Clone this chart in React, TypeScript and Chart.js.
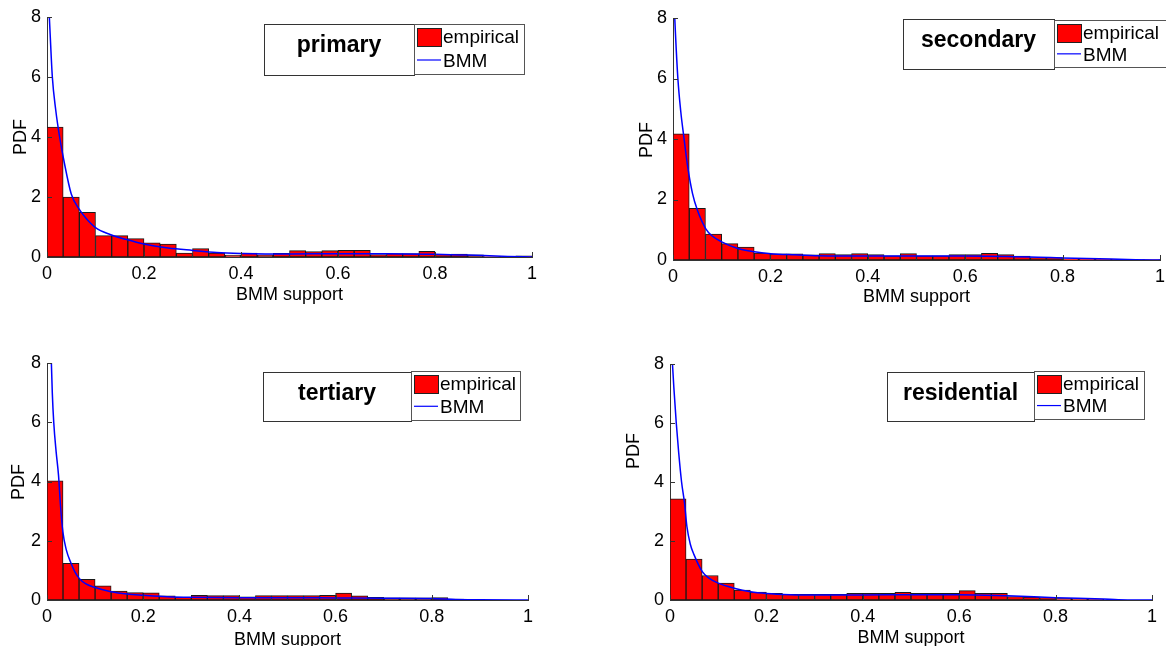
import React, { useEffect, useRef } from "react";
import { Chart, registerables } from "chart.js";

Chart.register(...registerables);

// ---------- data ----------
const BIN_CENTERS = [
  1 / 60, 3 / 60, 5 / 60, 7 / 60, 9 / 60, 11 / 60, 13 / 60, 15 / 60, 17 / 60, 19 / 60,
  21 / 60, 23 / 60, 25 / 60, 27 / 60, 29 / 60, 31 / 60, 33 / 60, 35 / 60, 37 / 60, 39 / 60,
  41 / 60, 43 / 60, 45 / 60, 47 / 60, 49 / 60, 51 / 60, 53 / 60, 55 / 60, 57 / 60, 59 / 60,
];

const PRIMARY_PDF = [
  4.33, 2.0, 1.49, 0.71, 0.71, 0.61, 0.47, 0.43, 0.13, 0.28,
  0.13, 0.06, 0.13, 0.07, 0.12, 0.21, 0.18, 0.21, 0.22, 0.22,
  0.08, 0.11, 0.11, 0.19, 0.08, 0.1, 0.07, 0.01, 0.02, 0.04,
];
const SECONDARY_PDF = [
  4.17, 1.71, 0.86, 0.54, 0.43, 0.23, 0.2, 0.2, 0.17, 0.21,
  0.18, 0.21, 0.18, 0.14, 0.21, 0.14, 0.14, 0.18, 0.18, 0.22,
  0.18, 0.13, 0.08, 0.08, 0.04, 0.03, 0.02, 0.02, 0.01, 0.01,
];
const TERTIARY_PDF = [
  4.02, 1.24, 0.7, 0.48, 0.3, 0.25, 0.24, 0.14, 0.09, 0.16,
  0.15, 0.15, 0.11, 0.15, 0.15, 0.15, 0.15, 0.16, 0.23, 0.14,
  0.09, 0.07, 0.07, 0.07, 0.08, 0.03, 0.01, 0.0, 0.0, 0.0,
];
const RESIDENTIAL_PDF = [
  3.43, 1.39, 0.83, 0.57, 0.34, 0.27, 0.23, 0.19, 0.19, 0.19,
  0.19, 0.23, 0.23, 0.23, 0.26, 0.23, 0.23, 0.23, 0.32, 0.23,
  0.23, 0.12, 0.1, 0.08, 0.06, 0.05, 0.02, 0.01, 0.0, 0.0,
];

const PRIMARY_BMM_X = [0.003, 0.006, 0.011, 0.018, 0.026, 0.035, 0.05, 0.067, 0.08, 0.1, 0.13, 0.16, 0.2, 0.25, 0.3, 0.35, 0.4, 0.5, 0.6, 0.7, 0.8, 0.85, 0.9, 0.95, 1.0];
const PRIMARY_BMM_Y = [8.6, 7.6, 6.0, 4.9, 4.0, 3.2, 2.1, 1.58, 1.3, 0.98, 0.75, 0.6, 0.43, 0.3, 0.22, 0.15, 0.12, 0.1, 0.11, 0.11, 0.09, 0.07, 0.05, 0.02, 0.0];

const SECONDARY_BMM_X = [0.002, 0.005, 0.01, 0.016, 0.022, 0.03, 0.04, 0.05, 0.067, 0.08, 0.1, 0.133, 0.167, 0.2, 0.25, 0.3, 0.4, 0.5, 0.6, 0.7, 0.75, 0.8, 0.9, 0.95, 1.0];
const SECONDARY_BMM_Y = [8.6, 7.5, 6.0, 4.9, 4.1, 3.1, 2.2, 1.65, 1.04, 0.8, 0.6, 0.38, 0.27, 0.21, 0.17, 0.14, 0.13, 0.13, 0.13, 0.11, 0.09, 0.07, 0.03, 0.01, 0.0];

const TERTIARY_BMM_X = [0.008, 0.011, 0.014, 0.019, 0.024, 0.028, 0.033, 0.04, 0.05, 0.058, 0.067, 0.08, 0.1, 0.133, 0.167, 0.2, 0.25, 0.3, 0.4, 0.5, 0.6, 0.7, 0.8, 0.85, 0.9, 1.0];
const TERTIARY_BMM_Y = [8.6, 7.0, 6.0, 5.0, 4.2, 3.2, 2.3, 1.7, 1.24, 0.95, 0.73, 0.55, 0.42, 0.28, 0.2, 0.16, 0.11, 0.09, 0.08, 0.08, 0.07, 0.06, 0.05, 0.02, 0.005, 0.0];

const RESIDENTIAL_BMM_X = [0.003, 0.008, 0.013, 0.018, 0.024, 0.03, 0.035, 0.042, 0.05, 0.067, 0.08, 0.1, 0.133, 0.167, 0.2, 0.25, 0.3, 0.4, 0.5, 0.6, 0.7, 0.8, 0.9, 0.93, 1.0];
const RESIDENTIAL_BMM_Y = [8.6, 7.2, 6.0, 5.0, 4.0, 3.3, 2.5, 1.9, 1.53, 0.96, 0.75, 0.57, 0.4, 0.28, 0.22, 0.18, 0.17, 0.17, 0.18, 0.18, 0.14, 0.08, 0.03, 0.01, 0.0];

const X_TICKS = [0, 0.2, 0.4, 0.6, 0.8, 1];
const X_TICK_LABELS = ["0", "0.2", "0.4", "0.6", "0.8", "1"];
const Y_TICKS = [0, 2, 4, 6, 8];
const Y_TICK_LABELS = ["0", "2", "4", "6", "8"];
const PANEL_NAMES = ["primary", "secondary", "tertiary", "residential"];
const SERIES_LABELS = ["empirical", "BMM"];
const X_LABEL = "BMM support";
const Y_LABEL = "PDF";

const PANEL_PDFS = [PRIMARY_PDF, SECONDARY_PDF, TERTIARY_PDF, RESIDENTIAL_PDF];
const PANEL_BMM_X = [PRIMARY_BMM_X, SECONDARY_BMM_X, TERTIARY_BMM_X, RESIDENTIAL_BMM_X];
const PANEL_BMM_Y = [PRIMARY_BMM_Y, SECONDARY_BMM_Y, TERTIARY_BMM_Y, RESIDENTIAL_BMM_Y];

// ---------- layout (page pixel coordinates) ----------
type Box = [number, number, number, number];
interface PanelLayout {
  canvas: Box; // x, y, w, h
  plot: Box; // left, top, right, bottom
  title: Box; // x, y, w, h
  legend: Box; // x, y, w, h
  ylab: [number, number];
  xlabBase: number;
}
const LAYOUT: PanelLayout[] = [
  { canvas: [0, 0, 583, 323], plot: [47, 17, 532, 257], title: [264, 24, 150, 51], legend: [414, 24, 110, 50], ylab: [21.5, 137], xlabBase: 300 },
  { canvas: [583, 0, 600, 323], plot: [673, 18, 1160, 260], title: [903, 19, 151, 50], legend: [1054, 20, 112, 47], ylab: [647, 140], xlabBase: 302 },
  { canvas: [0, 323, 583, 323], plot: [47, 363, 528, 600], title: [263, 372, 148, 49], legend: [411, 371, 109, 49], ylab: [19, 482], xlabBase: 645 },
  { canvas: [583, 323, 600, 323], plot: [670, 364, 1152, 600], title: [887, 372, 147, 49], legend: [1034, 371, 110, 48], ylab: [634, 451], xlabBase: 643 },
];

const FONT = "'Liberation Sans', Arial, Helvetica, sans-serif";
const AXIS_COLOR = "#333333";
const TEXT_COLOR = "#000000";

function Panel({ idx }: { idx: number }) {
  const ref = useRef<HTMLCanvasElement | null>(null);
  const L = LAYOUT[idx];
  const [cx, cy, cw, ch] = L.canvas;
  const [pl, pt, pr, pb] = L.plot;

  useEffect(() => {
    const canvas = ref.current;
    if (!canvas) return;

    const decor = {
      id: "matlabDecor" + idx,
      afterDraw(chart: any) {
        const ctx = chart.ctx as CanvasRenderingContext2D;
        const xs = chart.scales.x;
        const ys = chart.scales.y;
        const area = chart.chartArea;
        ctx.save();
        // inward ticks
        ctx.strokeStyle = AXIS_COLOR;
        ctx.lineWidth = 1;
        ctx.beginPath();
        for (const v of Y_TICKS) {
          const y = Math.round(ys.getPixelForValue(v)) + 0.5;
          ctx.moveTo(area.left, y);
          ctx.lineTo(area.left + 5, y);
        }
        for (const v of X_TICKS) {
          const x = Math.round(xs.getPixelForValue(v)) + 0.5;
          ctx.moveTo(x, area.bottom);
          ctx.lineTo(x, area.bottom - 5);
        }
        ctx.stroke();

        // axis titles
        ctx.fillStyle = TEXT_COLOR;
        ctx.font = `18px ${FONT}`;
        ctx.textAlign = "center";
        ctx.textBaseline = "alphabetic";
        ctx.fillText(X_LABEL, (area.left + area.right) / 2, L.xlabBase - cy);
        ctx.save();
        ctx.translate(L.ylab[0] - cx, L.ylab[1] - cy);
        ctx.rotate(-Math.PI / 2);
        ctx.textBaseline = "middle";
        ctx.fillText(Y_LABEL, 0, 0);
        ctx.restore();

        // title box
        const [tx, ty, tw, th] = L.title;
        const bx = tx - cx, by = ty - cy;
        ctx.fillStyle = "#ffffff";
        ctx.fillRect(bx, by, tw, th);
        ctx.strokeStyle = "#333333";
        ctx.strokeRect(Math.round(bx) + 0.5, Math.round(by) + 0.5, tw, th);
        ctx.fillStyle = "#000000";
        ctx.font = `bold 23px ${FONT}`;
        ctx.textAlign = "center";
        ctx.textBaseline = "alphabetic";
        ctx.fillText(PANEL_NAMES[idx], bx + tw / 2, by + 28);

        // legend box
        const [lx0, ly0, lw, lh] = L.legend;
        const lx = lx0 - cx, ly = ly0 - cy;
        ctx.fillStyle = "#ffffff";
        ctx.fillRect(lx, ly, lw, lh);
        ctx.strokeStyle = "#555555";
        ctx.strokeRect(Math.round(lx) + 0.5, Math.round(ly) + 0.5, lw, lh);
        // patch
        ctx.fillStyle = "#ff0000";
        ctx.fillRect(lx + 3, ly + 4, 24, 18);
        ctx.strokeStyle = "#222222";
        ctx.strokeRect(Math.round(lx + 3) + 0.5, Math.round(ly + 4) + 0.5, 24, 18);
        // line
        const lineY = ly + lh * 0.72;
        ctx.strokeStyle = "#0000ff";
        ctx.lineWidth = 1.2;
        ctx.beginPath();
        ctx.moveTo(lx + 3, lineY);
        ctx.lineTo(lx + 27, lineY);
        ctx.stroke();
        ctx.fillStyle = "#000000";
        ctx.font = `19px ${FONT}`;
        ctx.textAlign = "left";
        ctx.textBaseline = "middle";
        ctx.fillText(SERIES_LABELS[0], lx + 29, ly + 14);
        ctx.fillText(SERIES_LABELS[1], lx + 29, lineY + 1.5);
        ctx.restore();
      },
    };

    const chart = new Chart(canvas, {
      type: "bar",
      data: {
        datasets: [
          {
            type: "line",
            label: SERIES_LABELS[1],
            data: PANEL_BMM_X[idx].map((x, i) => ({ x, y: PANEL_BMM_Y[idx][i] })),
            borderColor: "#0000ff",
            borderWidth: 1.5,
            pointRadius: 0,
            fill: false,
            cubicInterpolationMode: "monotone",
            order: 1,
          } as any,
          {
            type: "bar",
            label: SERIES_LABELS[0],
            data: BIN_CENTERS.map((x, i) => ({ x, y: PANEL_PDFS[idx][i] })),
            backgroundColor: "#ff0000",
            borderColor: "#1a1a1a",
            borderWidth: 1,
            borderSkipped: false,
            barPercentage: 1,
            categoryPercentage: 1,
            order: 2,
          } as any,
        ],
      },
      options: {
        animation: false,
        responsive: false,
        events: [],
        layout: {
          padding: { left: 0, top: pt - cy, right: cx + cw - pr, bottom: 0 },
        },
        plugins: {
          legend: { display: false },
          tooltip: { enabled: false },
          title: { display: false },
        },
        scales: {
          x: {
            type: "linear",
            min: 0,
            max: 1,
            offset: false,
            grid: { display: false, drawTicks: false },
            border: { display: true, color: AXIS_COLOR, width: 1 },
            ticks: {
              autoSkip: false,
              maxRotation: 0,
              padding: 6,
              color: TEXT_COLOR,
              font: { family: FONT, size: 18 },
              callback: (_v: any, i: number) => X_TICK_LABELS[i],
            },
            afterBuildTicks: (s: any) => {
              s.ticks = X_TICKS.map((v) => ({ value: v }));
            },
            afterFit: (s: any) => {
              s.height = cy + ch - pb;
            },
          },
          y: {
            type: "linear",
            min: 0,
            max: 8,
            grid: { display: false, drawTicks: false },
            border: { display: true, color: AXIS_COLOR, width: 1 },
            ticks: {
              padding: 6,
              color: TEXT_COLOR,
              font: { family: FONT, size: 18 },
              callback: (_v: any, i: number) => Y_TICK_LABELS[i],
            },
            afterBuildTicks: (s: any) => {
              s.ticks = Y_TICKS.map((v) => ({ value: v }));
            },
            afterFit: (s: any) => {
              s.width = pl - cx;
            },
          },
        },
      } as any,
      plugins: [decor],
    });

    return () => chart.destroy();
  }, [idx]);

  return (
    <canvas
      ref={ref}
      width={cw}
      height={ch}
      style={{ position: "absolute", left: cx, top: cy, width: cw, height: ch }}
    />
  );
}

export default function App() {
  return (
    <div
      style={{
        position: "fixed",
        left: 0,
        top: 0,
        width: 1166,
        height: 646,
        overflow: "hidden",
        background: "#ffffff",
      }}
    >
      {PANEL_NAMES.map((_, i) => (
        <Panel key={i} idx={i} />
      ))}
    </div>
  );
}
